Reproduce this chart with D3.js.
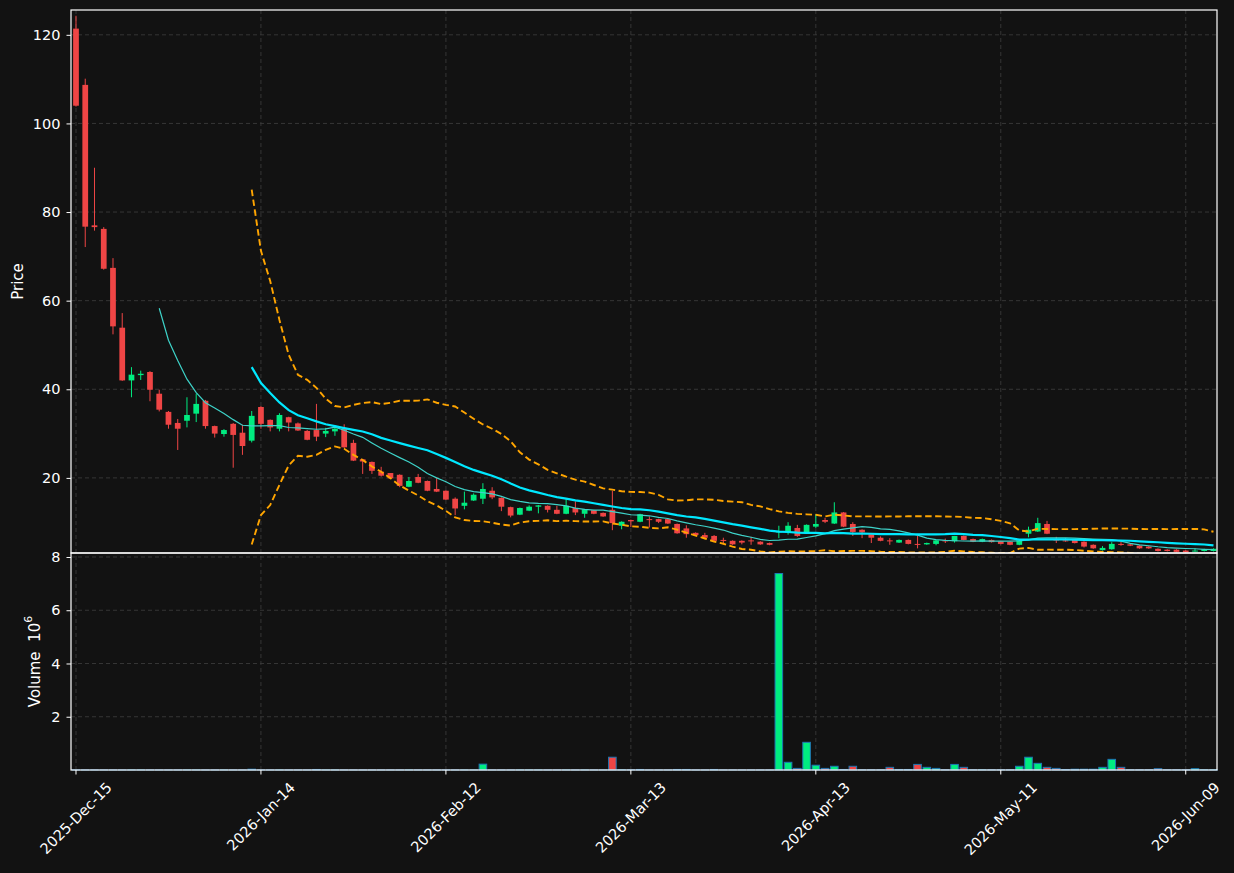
<!DOCTYPE html>
<meta charset="utf-8">
<script src="https://d3js.org/d3.v7.min.js"></script>
<style>
  body { margin: 0; background: #121212; }
  text { font-family: "DejaVu Sans", sans-serif; }
</style>
<div id="chart"></div>
<script>
// tick labels on the x axis (one every 20 candles)
const tickIdx = [0, 20, 40, 60, 80, 100, 120];
const tickLabels = ["2025-Dec-15", "2026-Jan-14", "2026-Feb-12", "2026-Mar-13", "2026-Apr-13", "2026-May-11", "2026-Jun-09"];

// OHLC
const opens = [121.4,108.7,77.0,76.2,67.4,53.9,42.0,43.2,43.9,39.0,
  34.9,32.4,32.9,34.5,37.4,31.7,29.9,32.2,30.2,28.4,
  36.0,33.1,31.1,33.7,32.3,30.6,30.8,30.0,30.5,31.1,
  27.9,24.2,23.6,21.4,21.1,20.7,18.0,20.2,19.3,17.5,
  17.1,15.3,13.7,14.9,15.3,17.1,15.5,13.4,11.7,12.6,
  13.5,13.7,12.8,11.9,13.2,11.9,12.7,12.1,12.8,9.2,
  10.5,10.1,10.7,10.7,10.7,9.6,8.6,7.6,7.1,6.9,
  6.0,5.8,5.8,5.9,5.6,5.3,7.7,7.7,8.7,7.5,
  9.0,10.5,9.7,12.2,9.6,8.3,7.3,6.5,5.9,5.4,
  6.0,5.1,5.0,5.1,5.9,5.7,6.9,6.2,5.6,6.0,
  5.7,5.6,4.9,7.4,7.9,9.6,6.1,5.9,6.0,5.6,
  4.9,3.7,3.9,5.1,5.0,4.7,4.5,4.0,3.8,3.8,
  3.6,3.5,3.5,3.5];
const highs = [124.3,110.1,90.0,76.6,69.6,57.2,45.0,44.2,44.1,39.9,
  35.1,33.3,38.2,39.0,37.6,31.8,31.0,32.4,32.0,35.1,
  36.2,33.2,34.6,33.8,32.5,30.8,36.7,31.3,31.5,32.1,
  28.6,24.3,23.7,22.5,21.1,20.8,20.2,20.9,19.4,20.1,
  17.2,15.6,16.9,16.5,18.8,17.9,15.6,13.5,13.3,13.8,
  13.9,13.8,13.7,15.2,14.7,13.0,12.8,12.2,17.1,10.2,
  10.6,11.9,11.3,10.8,10.8,9.7,9.3,7.7,7.6,7.1,
  6.5,5.9,5.9,6.7,5.7,5.4,9.2,10.0,9.4,9.5,
  11.8,11.0,14.5,12.3,10.0,8.4,7.4,6.8,6.4,6.1,
  6.1,6.9,5.4,6.0,6.3,6.9,7.0,6.3,6.3,6.1,
  5.8,5.7,6.0,9.0,11.0,10.3,6.7,6.4,6.1,5.7,
  5.0,4.6,5.5,5.6,5.1,4.8,4.6,4.1,3.9,3.9,
  3.7,4.1,4.0,4.1];
const lows = [103.8,72.1,75.8,67.0,52.4,41.9,38.2,42.1,37.3,35.0,
  31.1,26.3,31.4,32.6,31.1,29.1,29.3,22.3,25.2,28.0,
  31.1,30.5,30.5,30.5,30.6,28.5,28.3,29.2,29.5,26.8,
  23.8,20.9,20.9,20.3,19.8,17.9,17.9,18.8,17.0,16.8,
  15.0,11.6,12.9,14.8,14.1,15.2,12.5,11.1,11.6,12.5,
  12.0,12.2,11.8,11.8,11.6,11.0,11.8,11.2,8.2,8.4,
  8.9,10.0,8.8,9.8,9.6,7.4,6.5,7.0,6.4,5.7,
  5.3,4.9,5.0,4.9,4.9,4.8,6.4,7.2,6.7,7.4,
  8.7,9.8,9.6,8.9,6.9,6.4,5.3,5.7,4.9,5.3,
  5.0,4.1,4.9,4.8,5.3,5.4,5.9,5.5,5.5,5.4,
  5.0,4.8,4.8,6.6,7.8,7.3,5.3,5.6,5.2,4.3,
  4.0,3.6,3.8,4.7,4.6,4.0,4.0,3.4,3.4,3.2,
  3.1,3.4,3.4,3.4];
const closes = [104.0,76.7,76.6,67.2,54.2,42.0,43.3,43.5,39.9,35.4,
  32.0,31.1,34.2,36.7,31.7,30.0,30.8,29.7,27.2,34.0,
  32.2,31.4,34.2,32.5,30.7,28.6,29.3,30.6,31.1,26.9,
  23.9,23.7,21.6,20.5,19.9,18.2,19.3,18.9,17.1,16.9,
  15.1,13.1,14.4,16.2,17.5,15.6,13.5,11.5,13.2,13.5,
  13.8,12.8,11.9,13.7,12.2,12.9,11.9,11.3,9.8,10.1,
  10.2,11.8,10.6,10.1,9.7,7.5,7.3,7.1,6.5,5.8,
  5.9,5.0,5.4,5.8,5.0,4.9,8.0,9.2,6.9,9.4,
  9.6,10.1,12.2,9.0,7.8,7.7,6.5,5.8,5.8,6.0,
  5.1,5.0,5.3,5.9,5.8,6.9,6.0,5.6,6.2,5.5,
  5.1,4.9,5.9,8.3,9.8,7.4,6.0,5.8,5.3,4.5,
  4.1,4.2,5.1,5.0,4.7,4.1,4.1,3.5,3.5,3.3,
  3.2,3.6,3.9,4.0];
// volume in millions
const volumes = [0.005,0.005,0.005,0.005,0.005,0.005,0.005,0.005,0.005,0.005,
  0.005,0.005,0.005,0.005,0.005,0.005,0.005,0.005,0.005,0.03,
  0.005,0.005,0.005,0.005,0.005,0.005,0.02,0.005,0.005,0.005,
  0.005,0.005,0.005,0.005,0.005,0.005,0.005,0.005,0.005,0.005,
  0.005,0.005,0.005,0.005,0.22,0.005,0.005,0.005,0.005,0.005,
  0.005,0.005,0.005,0.005,0.005,0.005,0.005,0.005,0.48,0.01,
  0.01,0.02,0.005,0.005,0.005,0.02,0.02,0.005,0.005,0.02,
  0.005,0.005,0.005,0.005,0.005,0.005,7.38,0.29,0.06,1.04,
  0.18,0.06,0.14,0.02,0.14,0.01,0.01,0.01,0.10,0.02,
  0.02,0.21,0.10,0.06,0.01,0.21,0.10,0.01,0.01,0.01,
  0.01,0.01,0.14,0.48,0.25,0.10,0.06,0.02,0.03,0.03,
  0.03,0.10,0.40,0.10,0.01,0.01,0.01,0.05,0.01,0.01,
  0.01,0.05,0.01,0.01];

const upColor = "#00ec80", downColor = "#ef4545";
const W = 1234, H = 873;
const left = 71, right = 1217, pTop = 10, pBot = 553, vBot = 770;

const n = closes.length;
const data = closes.map((c, i) => ({ i, o: opens[i], h: highs[i], l: lows[i], c, v: volumes[i] }));

// moving averages and bands (20, 2 sigma)
function sma(win) {
  return data.map((d, i) => i < win - 1 ? null : d3.mean(closes.slice(i - win + 1, i + 1)));
}
const ma10 = sma(10), ma20 = sma(20);
const upper = data.map((d, i) => i < 19 ? null : ma20[i] + 2 * d3.deviation(closes.slice(i - 19, i + 1)) * Math.sqrt(19 / 20));
const lower = data.map((d, i) => i < 19 ? null : ma20[i] - 2 * d3.deviation(closes.slice(i - 19, i + 1)) * Math.sqrt(19 / 20));

const svg = d3.select("#chart").append("svg")
  .attr("width", W).attr("height", H)
  .style("background", "#121212");

const x = d3.scaleLinear().domain([-0.54, n - 0.62]).range([left, right]);
const yP = d3.scaleLinear().domain([3.05, 125.6]).range([pBot, pTop]);
const yV = d3.scaleLinear().domain([0, 8.15]).range([vBot, pBot]);

const step = x(1) - x(0);

svg.append("defs").append("clipPath").attr("id", "clipP")
  .append("rect").attr("x", left).attr("y", pTop).attr("width", right - left).attr("height", pBot - pTop);

// grid
const gridColor = "#3a3a3a";
const grid = svg.append("g").attr("stroke", gridColor).attr("stroke-width", 0.9).attr("stroke-dasharray", "4,3");
grid.selectAll(".vg").data(tickIdx).join("line")
  .attr("x1", d => x(d)).attr("x2", d => x(d)).attr("y1", pTop).attr("y2", vBot);
grid.selectAll(".hp").data([20, 40, 60, 80, 100, 120]).join("line")
  .attr("x1", left).attr("x2", right).attr("y1", d => yP(d)).attr("y2", d => yP(d));
grid.selectAll(".hv").data([2, 4, 6, 8]).join("line")
  .attr("x1", left).attr("x2", right).attr("y1", d => yV(d)).attr("y2", d => yV(d));

// candles
const candles = svg.append("g").attr("clip-path", "url(#clipP)");
candles.selectAll(".wick").data(data).join("line")
  .attr("x1", d => x(d.i)).attr("x2", d => x(d.i))
  .attr("y1", d => yP(d.h)).attr("y2", d => yP(d.l))
  .attr("stroke", d => d.c >= d.o ? upColor : downColor)
  .attr("stroke-width", 1);
const bw = step * 0.62;
candles.selectAll(".body").data(data).join("rect")
  .attr("x", d => x(d.i) - bw / 2)
  .attr("width", bw)
  .attr("y", d => yP(Math.max(d.o, d.c)))
  .attr("height", d => Math.max(1, Math.abs(yP(d.o) - yP(d.c))))
  .attr("fill", d => d.c >= d.o ? upColor : downColor);

// lines
const lineGen = arr => d3.line()
  .defined(d => arr[d.i] != null)
  .x(d => x(d.i)).y(d => yP(arr[d.i]))(data);
const lines = svg.append("g").attr("clip-path", "url(#clipP)").attr("fill", "none");
lines.append("path").attr("d", lineGen(ma10)).attr("stroke", "#3ed3c9").attr("stroke-width", 1.2);
lines.append("path").attr("d", lineGen(ma20)).attr("stroke", "#00e8ff").attr("stroke-width", 2.2);
lines.append("path").attr("d", lineGen(upper)).attr("stroke", "#ffa500").attr("stroke-width", 1.9).attr("stroke-dasharray", "6.5,3.5");
lines.append("path").attr("d", lineGen(lower)).attr("stroke", "#ffa500").attr("stroke-width", 1.9).attr("stroke-dasharray", "6.5,3.5");

// volume
const vw = step * 0.82;
svg.append("g").selectAll("rect").data(data).join("rect")
  .attr("x", d => x(d.i) - vw / 2)
  .attr("width", vw)
  .attr("y", d => yV(d.v))
  .attr("height", d => vBot - yV(d.v))
  .attr("fill", d => d.c >= d.o ? upColor : downColor)
  .attr("stroke", "#1f77b4").attr("stroke-width", 1);

// frames
const frame = svg.append("g").attr("fill", "none").attr("stroke", "#ffffff").attr("stroke-width", 1.2);
frame.append("rect").attr("x", left).attr("y", pTop).attr("width", right - left).attr("height", pBot - pTop);
frame.append("rect").attr("x", left).attr("y", pBot).attr("width", right - left).attr("height", vBot - pBot);

// y axes
function styleAxis(g) {
  g.select(".domain").remove();
  g.selectAll(".tick line").attr("stroke", "#ffffff").attr("stroke-width", 1);
  g.selectAll(".tick text").attr("fill", "#ffffff").style("font-size", "14.5px").style("font-family", "DejaVu Sans");
}
svg.append("g").attr("transform", `translate(${left},0)`)
  .call(d3.axisLeft(yP).tickValues([20, 40, 60, 80, 100, 120]).tickSize(4.5).tickPadding(6))
  .call(styleAxis);
svg.append("g").attr("transform", `translate(${left},0)`)
  .call(d3.axisLeft(yV).tickValues([2, 4, 6, 8]).tickSize(4.5).tickPadding(6))
  .call(styleAxis);

// x ticks
svg.append("g").selectAll("line").data(tickIdx).join("line")
  .attr("x1", d => x(d)).attr("x2", d => x(d))
  .attr("y1", vBot).attr("y2", vBot + 4.5)
  .attr("stroke", "#ffffff").attr("stroke-width", 1);
const xl = svg.append("g").selectAll("text").data(tickIdx).join("text")
  .attr("fill", "#ffffff").style("font-size", "14.5px")
  .attr("text-anchor", "middle").attr("dominant-baseline", "central")
  .text((d, i) => tickLabels[i]);
xl.attr("transform", function (d) {
  const w = this.getComputedTextLength();
  const half = (w + 16.9) * 0.7071 / 2;
  return `translate(${x(d)},${779 + half}) rotate(-45)`;
});

// axis titles
svg.append("text")
  .attr("transform", `translate(18,${(pTop + pBot) / 2}) rotate(-90)`)
  .attr("text-anchor", "middle").attr("dominant-baseline", "central")
  .attr("fill", "#ffffff").style("font-size", "15px")
  .text("Price");
const vt = svg.append("text")
  .attr("transform", `translate(35,${(pBot + vBot) / 2}) rotate(-90)`)
  .attr("text-anchor", "middle").attr("dominant-baseline", "central")
  .attr("fill", "#ffffff").style("font-size", "15px");
vt.append("tspan").text("Volume\u00a0\u00a010");
vt.append("tspan").attr("dy", -7).style("font-size", "11px").text("6");
</script>
